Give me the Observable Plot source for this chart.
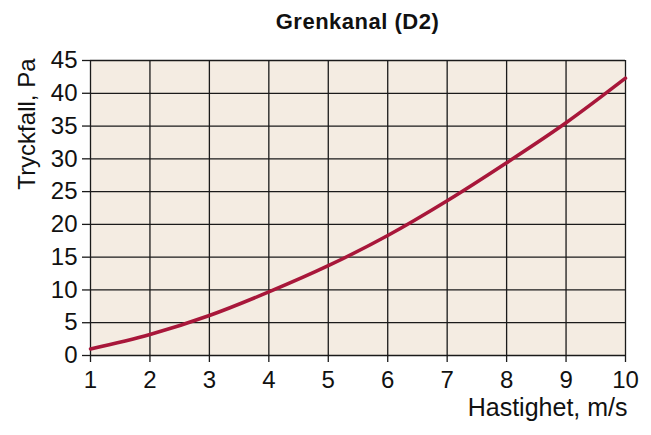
<!DOCTYPE html>
<html>
<head>
<meta charset="utf-8">
<script src="https://cdn.jsdelivr.net/npm/d3@7"></script>
<script src="https://cdn.jsdelivr.net/npm/@observablehq/plot@0.6"></script>
<style>
  html, body { margin: 0; padding: 0; background: #ffffff; }
  #title {
    width: 651px; height: 40px; box-sizing: border-box;
    padding: 2px 26px 0 90px; text-align: center;
    font-family: "Liberation Sans", Arial, sans-serif; font-weight: bold;
    font-size: 22px; letter-spacing: 0.5px; line-height: 40px; color: #111;
  }
  svg { display: block; }
</style>
</head>
<body>
<div id="title">Grenkanal (D2)</div>
<div id="chart"></div>
<script>
const titleText = "Grenkanal (D2)";
const xLabel = "Hastighet, m/s";
const yLabel = "Tryckfall, Pa";
const speed = [1, 2, 3, 4, 5, 6, 7, 8, 9, 10];
const pressureDrop = [1.0, 3.2, 6.1, 9.7, 13.7, 18.3, 23.6, 29.4, 35.5, 42.3];
const xTicks = [1, 2, 3, 4, 5, 6, 7, 8, 9, 10];
const yTicks = [0, 5, 10, 15, 20, 25, 30, 35, 40, 45];

document.getElementById("title").textContent = titleText;
const data = speed.map((s, i) => ({speed: s, drop: pressureDrop[i]}));
const font = "Liberation Sans, Arial, sans-serif";
const ink = "#1a1a1a";

const chart = Plot.plot({
  width: 651,
  height: 395,
  marginTop: 20,
  marginBottom: 80,
  marginLeft: 90,
  marginRight: 26,
  style: {fontFamily: font, fontSize: "24px", color: "#111", background: "transparent"},
  x: {domain: [1, 10]},
  y: {domain: [0, 45]},
  marks: [
    Plot.frame({fill: "#f4ece2", stroke: null}),
    Plot.ruleX(xTicks, {stroke: ink, strokeWidth: 1.3}),
    Plot.ruleY(yTicks, {stroke: ink, strokeWidth: 1.3}),
    Plot.line(data, {x: "speed", y: "drop", stroke: "#a8173a", strokeWidth: 3.5, curve: "monotone-x"}),
    Plot.axisX({ticks: xTicks, tickSize: 7, tickPadding: 8, fontSize: 24, label: null, stroke: ink, strokeWidth: 1.3}),
    Plot.axisY({ticks: yTicks, tickSize: 8, tickPadding: 5, fontSize: 24, label: null, stroke: ink, strokeWidth: 1.3}),
    Plot.text([xLabel], {text: d => d, frameAnchor: "bottom-right", textAnchor: "end", lineAnchor: "top", dx: 2, dy: 43, fontSize: 25, fill: "#111"}),
    Plot.text([yLabel], {text: d => d, frameAnchor: "top-left", textAnchor: "end", lineAnchor: "top", rotate: -90, dx: -73, dy: -2, fontSize: 24, fill: "#111"})
  ]
});
document.getElementById("chart").appendChild(chart);
</script>
</body>
</html>
